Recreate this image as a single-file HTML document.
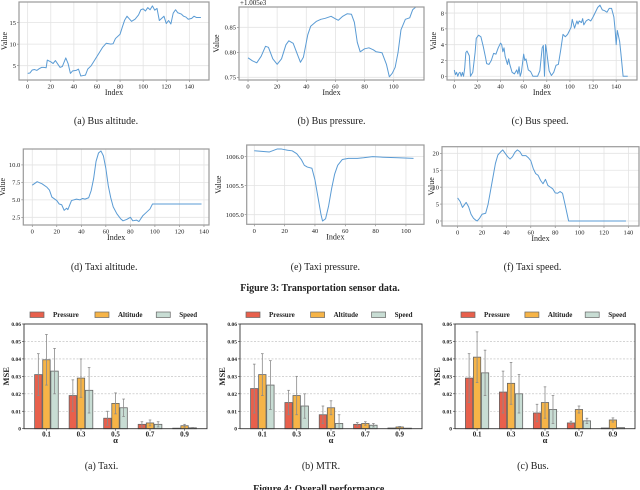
<!DOCTYPE html>
<html><head><meta charset="utf-8">
<style>
body{margin:0;background:#fff;}
svg{display:block;font-family:"Liberation Serif",serif;}
</style></head>
<body>
<svg id="fig" width="640" height="490" viewBox="0 0 640 490" xmlns="http://www.w3.org/2000/svg"></svg>
<script>
// ---------- Line chart data ----------
const busAltIdx = [0,2,4,6,8,10,12,14,16,17,20,22,24,26,28,30,33,35,37,39,42,44,46,48,50,52,55,58,62,65,68,72,74,76,80,82,84,86,88,90,93,96,98,100,102,104,106,108,110,112,114,116,118,120,122,124,126,128,130,133,135,137,139,142,144,146,150];
const busAltVal = [3.2,3.3,4,4.1,3.9,4.3,4.6,4.6,4.5,6.3,5.9,5.5,6.2,5.4,4.6,4.8,6.8,5.5,3.2,3.8,3.9,4.2,2.6,2.7,2.8,4.2,5,6.3,8,9.3,10.2,10,10.1,11.3,12.3,14,15.6,16.5,15.9,15.3,15.8,16.8,18,18.2,17.7,18.5,18,18.9,17.9,18.3,15.5,16,16.5,14.8,15.5,14.7,17.2,18,17.3,17,16.5,16.3,15.8,16,16.5,16.2,16.2];
const busPresIdx = [0,3,6,9,12,14,17,20,23,26,28,31,34,36,38,41,43,47,50,53,57,60,62,65,68,71,73,75,77,80,83,86,88,92,95,97,99,101,103,105,108,111,113,115];
const busPresVal = [0.789,0.783,0.779,0.792,0.812,0.81,0.787,0.776,0.787,0.815,0.823,0.818,0.795,0.78,0.79,0.835,0.852,0.862,0.866,0.868,0.872,0.867,0.864,0.872,0.877,0.876,0.86,0.82,0.801,0.807,0.809,0.805,0.801,0.799,0.776,0.751,0.758,0.77,0.8,0.845,0.866,0.869,0.885,0.89];
const busSpdIdx = [0,1,2,3,4,5,6,7,8,9,10,11,13,14,16,18,19,21,23,25,27,28,30,32,34,36,38,40,41,42,43,44,46,47,48,50,52,54,55,56,57,58,60,61,62,64,66,68,72,74,76,77,78,79,80,82,84,86,88,90,92,94,96,98,101,102,104,106,107,108,110,111,112,114,116,118,120,122,124,126,128,130,132,134,136,138,139,140,141,143,144,146,150];
const busSpdVal = [0.8,0.2,0.5,0,0.4,0.5,0,0.5,0,1,3,3.2,2.6,0,0.5,3,4.8,5.2,5,3.8,2.4,1.6,1.5,2,2.9,2.8,3.6,4.2,4,3.1,3.6,2.5,1.5,2.2,1.5,0.5,0.3,0.8,0.3,1.2,0,0.5,2.8,2,2.2,0.8,0.6,0,0,0.7,3.6,3.9,0,4,3,0.7,0.1,0.5,1.4,1.5,3.3,5.3,5,5.3,6.2,7.2,6.1,7,6.6,7,6.8,7.3,6.5,7,7.2,7,7.5,8.1,8.7,9,8.4,8.3,8.1,8.6,8.6,7.5,6,4,5.8,4.4,3,0,0];
const taxiAltIdx = [0,4,8,12,14,16,20,22,24,26,28,29,32,36,39,41,43,46,48,50,52,54,56,58,60,62,64,66,69,72,74,77,80,82,85,87,90,93,96,98,138];
const taxiAltVal = [7.1,7.6,7.3,6.8,6.4,5.4,4.9,4.4,4.3,3.5,3.8,3.6,4.9,5.1,5,5.2,5.1,5.3,6.3,8,10.5,11.7,12,11.3,9.5,7,5.3,4,3,2.3,2,2.2,2.5,2,2.1,1.9,2.7,3.2,3.7,4.4,4.4];
const taxiPresIdx = [0,5,10,15,18,22,25,28,31,33,35,38,40,42,44,45,47,49,51,53,55,58,62,68,72,78,85,95,105];
const taxiPresVal = [1006.10,1006.09,1006.08,1006.13,1006.13,1006.11,1006.10,1006.05,1005.95,1005.85,1005.82,1005.80,1005.6,1005.3,1005.0,1004.89,1004.93,1005.15,1005.45,1005.7,1005.85,1005.95,1005.97,1005.97,1005.98,1006.0,1005.99,1005.98,1005.97];
const taxiSpdIdx = [0,2,4,6,7,9,11,13,15,16,18,20,23,25,27,29,31,33,35,37,39,41,43,45,47,49,51,53,56,58,60,62,64,66,68,70,72,74,76,78,80,82,84,86,88,91,138];
const taxiSpdVal = [6.8,5.8,4,5,5.5,4.2,2,0.8,0.2,0,0.8,2,2.3,5,9,13,17,19.5,20.3,21,20,19,18.3,19,20.3,21,20.5,19.3,19.3,18.7,17.8,15.5,14,13.5,12,11,12.3,10.5,10,9.5,8.3,8.2,8.7,8.2,5,0,0];

const xTicksBus = [0,20,40,60,80,100,120,140];
const xTicksBusP = [0,20,40,60,80,100];
const xTicksTaxiP = [0,20,40,60,80,100];
const yTicksBusAlt = [5,10,15];
const yTicksBusPres = [0.75,0.80,0.85];
const yLabelsBusPres = ["0.75","0.80","0.85"];
const yTicksBusSpd = [0,2,4,6,8];
const yTicksTaxiAlt = [2.5,5.0,7.5,10.0];
const yTicksTaxiPres = [1005.0,1005.5,1006.0];
const yTicksTaxiSpd = [0,5,10,15,20];

// ---------- Bar chart data ----------
const alphaLabels = ["0.1","0.3","0.5","0.7","0.9"];
const seriesNames = ["Pressure","Altitude","Speed"];
const taxiP = [0.031,0.019,0.006,0.0025,0.0003];
const taxiA = [0.0395,0.029,0.0145,0.0033,0.0017];
const taxiS = [0.033,0.022,0.012,0.0025,0.0005];
const taxiPErr = [0.012,0.009,0.004,0.0015,0];
const taxiAErr = [0.0145,0.011,0.006,0.0017,0.0008];
const taxiSErr = [0.013,0.013,0.005,0.0015,0.0002];
const mtrP = [0.023,0.015,0.008,0.0025,0.0004];
const mtrA = [0.031,0.019,0.012,0.003,0.001];
const mtrS = [0.025,0.013,0.003,0.002,0.0003];
const mtrPErr = [0.014,0.007,0.005,0.001,0];
const mtrAErr = [0.012,0.011,0.004,0.001,0.0003];
const mtrSErr = [0.014,0.007,0.005,0.001,0];
const busP = [0.029,0.021,0.009,0.0033,0.0004];
const busA = [0.041,0.026,0.015,0.011,0.005];
const busS = [0.032,0.020,0.011,0.0045,0.0006];
const busPErr = [0.014,0.012,0.005,0.001,0];
const busAErr = [0.0145,0.012,0.009,0.002,0.0012];
const busSErr = [0.013,0.011,0.008,0.0015,0];
const mseTicks = [0,0.01,0.02,0.03,0.04,0.05,0.06];
const mseLabels = ["0","0.01","0.02","0.03","0.04","0.05","0.06"];

const NS = "http://www.w3.org/2000/svg";
const svg = document.getElementById('fig');
function mk(tag, attrs, parent, text){
  const e = document.createElementNS(NS, tag);
  for (const k in attrs) e.setAttribute(k, attrs[k]);
  if (text !== undefined) e.textContent = text;
  (parent || svg).appendChild(e);
  return e;
}
function txt(x,y,s,size,anchor,name,extra){
  const t = mk('text',{x:x,y:y,'font-size':size,'text-anchor':anchor||'middle',fill:'#222'},null,s);
  
  
  if (extra) for (const k in extra) t.setAttribute(k, extra[k]);
  return t;
}

function lineChart(c){
  const g = mk('g',{});
  
  
  const sx = v => c.L + (v - c.xd[0])/(c.xd[1]-c.xd[0])*(c.R-c.L);
  const sy = v => c.B - (v - c.yd[0])/(c.yd[1]-c.yd[0])*(c.B-c.T);
  c.xt.forEach(v=>{
    const l = mk('line',{x1:sx(v),x2:sx(v),y1:c.T,y2:c.B,stroke:'#e3e3e3','stroke-width':0.8},g);
    
    
    const tk = mk('line',{x1:sx(v),x2:sx(v),y1:c.B,y2:c.B+2,stroke:'#777','stroke-width':0.6},g);
    
    
    txt(sx(v), c.B+8.5, String(v), 6.5, 'middle', 'x-tick-label');
  });
  c.yt.forEach((v,i)=>{
    const l = mk('line',{x1:c.L,x2:c.R,y1:sy(v),y2:sy(v),stroke:'#e3e3e3','stroke-width':0.8},g);
    
    
    const tk = mk('line',{x1:c.L-2,x2:c.L,y1:sy(v),y2:sy(v),stroke:'#777','stroke-width':0.6},g);
    
    
    txt(c.L-3, sy(v)+2.3, c.yl ? c.yl[i] : String(v), 6.5, 'end', 'y-tick-label');
  });
  const pts = c.xs.map((x,i)=> sx(x).toFixed(2)+','+sy(c.ys[i]).toFixed(2)).join(' ');
  const pl = mk('polyline',{points:pts,fill:'none',stroke:'#5a9bd4','stroke-width':1,'stroke-linejoin':'round'},g);
  
  
  const fr = mk('rect',{x:c.L,y:c.T,width:c.R-c.L,height:c.B-c.T,fill:'none',stroke:'#9a9a9a','stroke-width':1.2},g);
  
  
  txt((c.L+c.R)/2, c.B+15, 'Index', 8, 'middle', 'x-axis-title');
  txt(c.vx, (c.T+c.B)/2, 'Value', 8, 'middle', 'y-axis-title', {transform:`rotate(-90 ${c.vx} ${(c.T+c.B)/2})`});
  txt((c.L+c.R)/2+c.capdx, c.capy, c.cap, 10, 'middle', 'subfigure-caption');
}

lineChart({name:'bus-altitude-chart',L:19,R:209,T:2,B:80,xd:[-7.5,157],yd:[1.67,19.8],xt:xTicksBus,yt:yTicksBusAlt,xs:busAltIdx,ys:busAltVal,vx:7,cap:'(a)  Bus altitude.',capy:124,capdx:-8});
lineChart({name:'bus-pressure-chart',L:239,R:424,T:7,B:80,xd:[-6.2,120.8],yd:[0.7446,0.8906],xt:xTicksBusP,yt:yTicksBusPres,yl:yLabelsBusPres,xs:busPresIdx,ys:busPresVal,vx:219,cap:'(b)  Bus pressure.',capy:124,capdx:0});
txt(240,5,'+1.005e3',7,'start','y-offset-label');
lineChart({name:'bus-speed-chart',L:447,R:637,T:2,B:80,xd:[-6.3,158],yd:[-0.47,9.4],xt:xTicksBus,yt:yTicksBusSpd,xs:busSpdIdx,ys:busSpdVal,vx:436,cap:'(c)  Bus speed.',capy:124,capdx:-2});
lineChart({name:'taxi-altitude-chart',L:23.3,R:209,T:149,B:225,xd:[-7.3,144.1],yd:[1.40,12.28],xt:[0,20,40,60,80,100,120,140],yt:yTicksTaxiAlt,yl:["2.5","5.0","7.5","10.0"],xs:taxiAltIdx,ys:taxiAltVal,vx:5,cap:'(d)  Taxi altitude.',capy:270,capdx:-12});
lineChart({name:'taxi-pressure-chart',L:246.7,R:424,T:145,B:224.3,xd:[-5,111.9],yd:[1004.834,1006.2],xt:xTicksTaxiP,yt:yTicksTaxiPres,yl:["1005.0","1005.5","1006.0"],xs:taxiPresIdx,ys:taxiPresVal,vx:221,cap:'(e)  Taxi pressure.',capy:270,capdx:-10});
lineChart({name:'taxi-speed-chart',L:442,R:639,T:146.7,B:226,xd:[-12.8,148.7],yd:[-1.48,21.95],xt:[0,20,40,60,80,100,120,140],yt:yTicksTaxiSpd,xs:taxiSpdIdx,ys:taxiSpdVal,vx:434,cap:'(f)  Taxi speed.',capy:270,capdx:-8});
txt(320,291,'Figure 3: Transportation sensor data.',10,'middle','figure-3-title',{'font-weight':'bold'});

const colors = ['#e8604c','#f6b447','#c8ddd4'];
function barChart(c){
  const g = mk('g',{});
  
  
  const xd=[-0.65,4.65], yd=[0,0.06];
  const sx = v => c.L + (v - xd[0])/(xd[1]-xd[0])*(c.R-c.L);
  const sy = v => c.B - (v - yd[0])/(yd[1]-yd[0])*(c.B-c.T);
  const unit = (c.R-c.L)/(xd[1]-xd[0]);
  mseTicks.forEach((v,i)=>{
    if (v>0 && v<0.06){
      const l = mk('line',{x1:c.L,x2:c.R,y1:sy(v),y2:sy(v),stroke:'#bbb','stroke-width':0.6,'stroke-dasharray':'2,1.5'},g);
      
      
    }
    const tk = mk('line',{x1:c.L-2,x2:c.L,y1:sy(v),y2:sy(v),stroke:'#333','stroke-width':0.6},g);
    
    
    txt(c.L-3, sy(v)+2, mseLabels[i], 5.5, 'end', 'y-tick-label', {'font-weight':'bold'});
  });
  const series = [c.p,c.a,c.s], errs=[c.pe,c.ae,c.se];
  const offs = [-0.235,0,0.235];
  const bw = 0.215*unit;
  series.forEach((vals,si)=>{
    vals.forEach((v,i)=>{
      const cx = sx(i+offs[si]);
      const r = mk('rect',{x:cx-bw/2,y:sy(v),width:bw,height:sy(0)-sy(v),fill:colors[si],stroke:'#666','stroke-width':0.8},g);
      
      
      const e = errs[si][i];
      if (e>0){
        const eg = mk('g',{stroke:'#8a8a8a','stroke-width':0.8},g);
        
        
        mk('line',{x1:cx,x2:cx,y1:sy(v+e),y2:sy(Math.max(0,v-e))},eg);
        mk('line',{x1:cx-1.3,x2:cx+1.3,y1:sy(v+e),y2:sy(v+e)},eg);
        mk('line',{x1:cx-1.3,x2:cx+1.3,y1:sy(Math.max(0,v-e)),y2:sy(Math.max(0,v-e))},eg);
      }
    });
  });
  const fr = mk('rect',{x:c.L,y:c.T,width:c.R-c.L,height:c.B-c.T,fill:'none',stroke:'#333','stroke-width':0.9},g);
  
  
  alphaLabels.forEach((s,i)=>{
    const tk = mk('line',{x1:sx(i),x2:sx(i),y1:c.B,y2:c.B+2,stroke:'#333','stroke-width':0.6},g);
    
    
    txt(sx(i), c.B+8, s, 7, 'middle', 'x-tick-label', {'font-weight':'bold'});
  });
  txt(sx(2), c.B+14.5, 'α', 8.5, 'middle', 'x-axis-title', {'font-weight':'bold'});
  const my=(c.T+c.B)/2, mx=c.L-15;
  txt(mx, my, 'MSE', 8.5, 'middle', 'y-axis-title', {'font-weight':'bold',transform:`rotate(-90 ${mx} ${my})`});
  const lx = c.L+6;
  const lw = [ (c.R-c.L)*0.0, (c.R-c.L)*0.355, (c.R-c.L)*0.69 ];
  seriesNames.forEach((n,si)=>{
    const x0 = lx + lw[si];
    const p = mk('rect',{x:x0,y:c.T-12,width:14,height:5.5,fill:colors[si],stroke:'#666','stroke-width':0.7},g);
    
    
    txt(x0+23, c.T-7, n, 7, 'start', 'legend-label-'+n.toLowerCase(), {'font-weight':'bold'});
  });
  txt((c.L+c.R)/2+c.capdx, 469, c.cap, 10, 'middle', 'subfigure-caption');
}
barChart({name:'taxi-bar-chart',L:24,R:207,T:324,B:428.7,p:taxiP,a:taxiA,s:taxiS,pe:taxiPErr,ae:taxiAErr,se:taxiSErr,cap:'(a)  Taxi.',capdx:-14});
barChart({name:'mtr-bar-chart',L:240,R:422,T:324,B:428.7,p:mtrP,a:mtrA,s:mtrS,pe:mtrPErr,ae:mtrAErr,se:mtrSErr,cap:'(b)  MTR.',capdx:-10});
barChart({name:'bus-bar-chart',L:455,R:635,T:324,B:428.7,p:busP,a:busA,s:busS,pe:busPErr,ae:busAErr,se:busSErr,cap:'(c)  Bus.',capdx:-12});
txt(320,492,'Figure 4: Overall performance.',10,'middle','figure-4-title',{'font-weight':'bold'});
</script>
</body></html>
